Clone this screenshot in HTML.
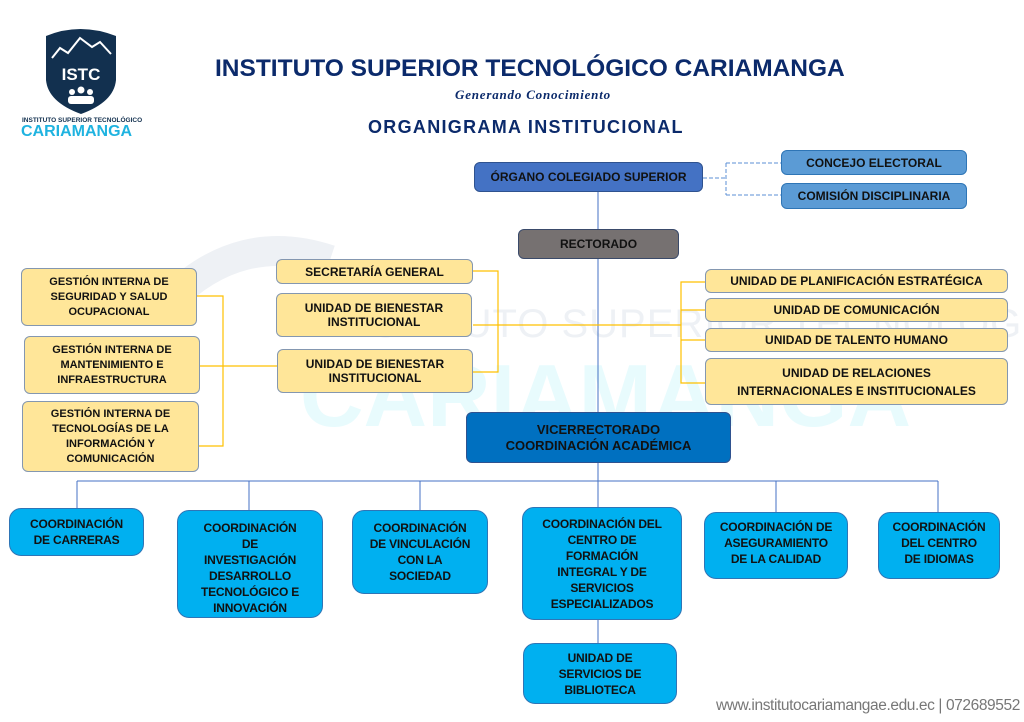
<!DOCTYPE html>
<html><head><meta charset="utf-8">
<style>
body{margin:0;width:1024px;height:722px;background:#fff;position:relative;overflow:hidden;font-family:"Liberation Sans",sans-serif}
.b{position:absolute;box-sizing:border-box;display:flex;align-items:center;justify-content:center;text-align:center;font-weight:bold;color:#111;font-size:12px;line-height:14px;border-radius:6px;overflow:hidden}
.y{background:#ffe699;border:1.5px solid #8497b0}
.c{background:#00b0f0;border:1.5px solid #2e75b6;border-radius:12px;font-size:12px;line-height:16px;letter-spacing:-0.2px}
.t{position:absolute;white-space:nowrap}
svg{position:absolute;left:0;top:0}
#wm{position:absolute;left:0;top:0;width:1024px;height:722px;overflow:hidden}
</style></head><body>
<div id="wm">
<div class="t" style="left:330px;top:302px;font-size:40px;color:#eef1f5;letter-spacing:1px">INSTITUTO SUPERIOR TECNOLÓGICO</div>
<div class="t" style="left:300px;top:345px;font-size:88px;font-weight:bold;color:#e8fbfd">CARIAMANGA</div>
</div>
<svg width="1024" height="722">
<path d="M170 300 Q240 230 330 260" stroke="#eef1f5" stroke-width="30" fill="none"/>
<path d="M46 36 Q80 22 116 36 L116 80 Q114 102 81 114 Q48 102 46 80 Z" fill="#12304f"/>
<path d="M52 58 L60 48 L68 53 L80 38 L92 47 L100 42 L111 54" stroke="#fff" stroke-width="2" fill="none"/>
<text x="81" y="80" font-size="17" font-weight="bold" fill="#fff" text-anchor="middle" font-family="Liberation Sans">ISTC</text>
<circle cx="72" cy="92" r="3" fill="#fff"/><circle cx="81" cy="90" r="3.5" fill="#fff"/><circle cx="90" cy="92" r="3" fill="#fff"/>
<rect x="68" y="96" width="26" height="8" rx="3" fill="#fff"/>
<g stroke="#4472c4" stroke-width="1" fill="none">
<line x1="598" y1="192" x2="598" y2="229"/>
<line x1="598" y1="259" x2="598" y2="412"/>
<line x1="598" y1="463" x2="598" y2="507"/>
<line x1="77" y1="481" x2="938" y2="481"/>
<line x1="77" y1="481" x2="77" y2="508"/>
<line x1="249" y1="481" x2="249" y2="510"/>
<line x1="420" y1="481" x2="420" y2="510"/>
<line x1="776" y1="481" x2="776" y2="512"/>
<line x1="938" y1="481" x2="938" y2="512"/>
<line x1="598" y1="620" x2="598" y2="643"/>
</g>
<g stroke="#5b8fd5" stroke-width="1" fill="none" stroke-dasharray="4,2">
<path d="M703 178 H726 M726 163 V195 M726 163 H781 M726 195 H781"/>
</g>
<g stroke="#ffc000" stroke-width="1.2" fill="none">
<path d="M473 271 H498 V372 H473"/>
<line x1="473" y1="325" x2="681" y2="325"/>
<path d="M705 282 H681 V383 H705 M681 310 H705 M681 340 H705"/>
<path d="M197 296 H223 V446 H199 M200 366 H277"/>
</g>
</svg>
<div class="t" style="left:22px;top:117px;font-size:6.5px;color:#12304f;font-weight:bold">INSTITUTO SUPERIOR TECNOLÓGICO</div>
<div class="t" style="left:21px;top:123px;font-size:16px;color:#1fb3e0;font-weight:bold">CARIAMANGA</div>
<div class="t" style="left:215px;top:55px;font-size:24.5px;font-weight:bold;color:#0b2a6b">INSTITUTO SUPERIOR TECNOLÓGICO CARIAMANGA</div>
<div class="t" style="left:455px;top:87px;font-size:13px;font-style:italic;font-weight:bold;color:#0b2a6b;font-family:'Liberation Serif',serif;letter-spacing:0.8px">Generando Conocimiento</div>
<div class="t" style="left:368px;top:117px;font-size:18px;font-weight:bold;color:#0b2a6b;letter-spacing:1.3px">ORGANIGRAMA INSTITUCIONAL</div>

<div class="b" style="left:474px;top:162px;width:229px;height:30px;background:#4472c4;border:1px solid #2f528f">ÓRGANO COLEGIADO SUPERIOR</div>
<div class="b" style="left:781px;top:150px;width:186px;height:25px;background:#5b9bd5;border:1px solid #2e75b6">CONCEJO ELECTORAL</div>
<div class="b" style="left:781px;top:183px;width:186px;height:26px;background:#5b9bd5;border:1px solid #2e75b6">COMISIÓN DISCIPLINARIA</div>
<div class="b" style="left:518px;top:229px;width:161px;height:30px;background:#767171;border:1px solid #3a4a6a">RECTORADO</div>

<div class="b y" style="left:276px;top:259px;width:197px;height:25px">SECRETARÍA GENERAL</div>
<div class="b y" style="left:276px;top:293px;width:196px;height:44px">UNIDAD DE BIENESTAR<br>INSTITUCIONAL</div>
<div class="b y" style="left:277px;top:349px;width:196px;height:44px">UNIDAD DE BIENESTAR<br>INSTITUCIONAL</div>

<div class="b y" style="left:21px;top:268px;width:176px;height:58px;font-size:11px;line-height:15px">GESTIÓN INTERNA DE<br>SEGURIDAD Y SALUD<br>OCUPACIONAL</div>
<div class="b y" style="left:24px;top:336px;width:176px;height:58px;font-size:11px;line-height:15px">GESTIÓN INTERNA DE<br>MANTENIMIENTO E<br>INFRAESTRUCTURA</div>
<div class="b y" style="left:22px;top:401px;width:177px;height:71px;font-size:11px;line-height:15px">GESTIÓN INTERNA DE<br>TECNOLOGÍAS DE LA<br>INFORMACIÓN Y<br>COMUNICACIÓN</div>

<div class="b y" style="left:705px;top:269px;width:303px;height:24px">UNIDAD DE PLANIFICACIÓN ESTRATÉGICA</div>
<div class="b y" style="left:705px;top:298px;width:303px;height:24px">UNIDAD DE COMUNICACIÓN</div>
<div class="b y" style="left:705px;top:328px;width:303px;height:24px">UNIDAD DE TALENTO HUMANO</div>
<div class="b y" style="left:705px;top:358px;width:303px;height:47px;line-height:18px">UNIDAD DE RELACIONES<br>INTERNACIONALES E INSTITUCIONALES</div>

<div class="b" style="left:466px;top:412px;width:265px;height:51px;background:#0070c0;border:1px solid #2f528f;font-size:13px;line-height:16px">VICERRECTORADO<br>COORDINACIÓN ACADÉMICA</div>

<div class="b c" style="left:9px;top:508px;width:135px;height:48px">COORDINACIÓN<br>DE CARRERAS</div>
<div class="b c" style="left:177px;top:510px;width:146px;height:108px;align-items:flex-start;padding-top:9px">COORDINACIÓN<br>DE<br>INVESTIGACIÓN<br>DESARROLLO<br>TECNOLÓGICO E<br>INNOVACIÓN</div>
<div class="b c" style="left:352px;top:510px;width:136px;height:84px">COORDINACIÓN<br>DE VINCULACIÓN<br>CON LA<br>SOCIEDAD</div>
<div class="b c" style="left:522px;top:507px;width:160px;height:113px">COORDINACIÓN DEL<br>CENTRO DE<br>FORMACIÓN<br>INTEGRAL Y DE<br>SERVICIOS<br>ESPECIALIZADOS</div>
<div class="b c" style="left:704px;top:512px;width:144px;height:67px;align-items:flex-start;padding-top:6px">COORDINACIÓN DE<br>ASEGURAMIENTO<br>DE LA CALIDAD</div>
<div class="b c" style="left:878px;top:512px;width:122px;height:67px;align-items:flex-start;padding-top:6px">COORDINACIÓN<br>DEL CENTRO<br>DE IDIOMAS</div>
<div class="b c" style="left:523px;top:643px;width:154px;height:61px">UNIDAD DE<br>SERVICIOS DE<br>BIBLIOTECA</div>

<div class="t" style="left:716px;top:697px;font-size:15.5px;color:#777;letter-spacing:-0.4px">www.institutocariamangae.edu.ec | 072689552</div>
</body></html>
